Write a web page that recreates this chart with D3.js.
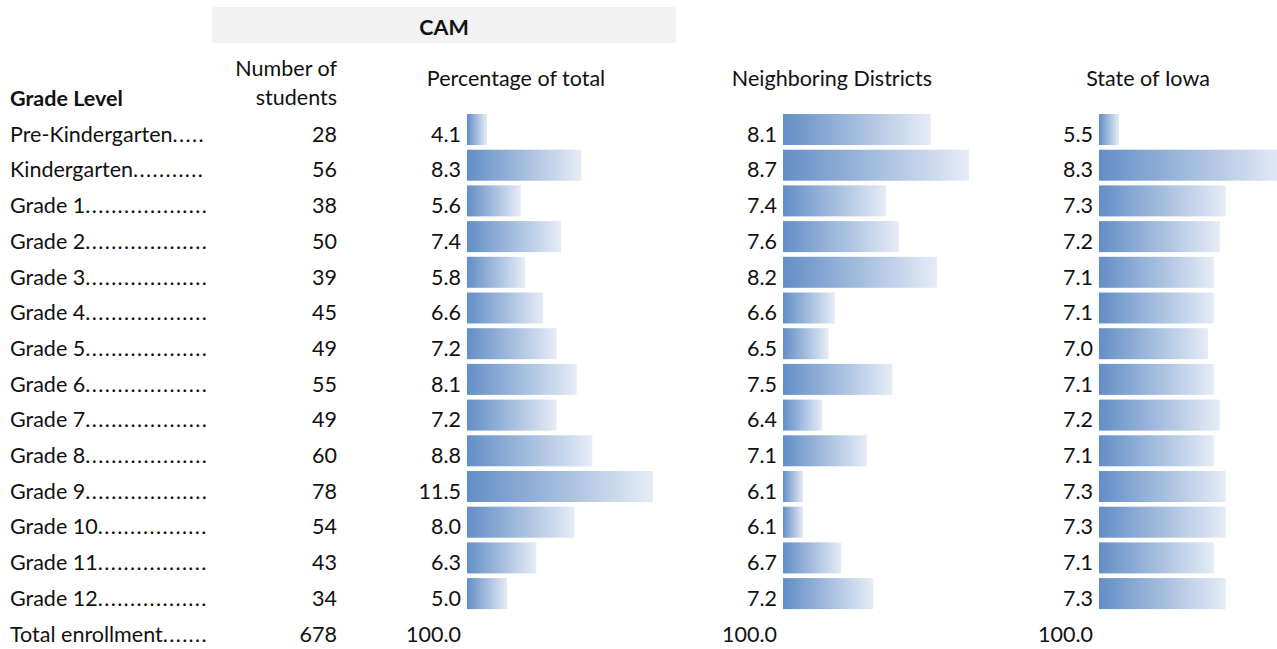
<!DOCTYPE html>
<html>
<head>
<meta charset="utf-8">
<script src="https://cdn.jsdelivr.net/npm/d3@7"></script>
<style>
  body { margin: 0; background: #fff; }
  text { font-family: Lato, "Open Sans", sans-serif; fill: #111; }
</style>
</head>
<body>
<svg id="chart" width="1277" height="649"></svg>
<script>
// grade rows
var grades = ["Pre-Kindergarten", "Kindergarten", "Grade 1", "Grade 2", "Grade 3", "Grade 4", "Grade 5",
  "Grade 6", "Grade 7", "Grade 8", "Grade 9", "Grade 10", "Grade 11", "Grade 12"];
var students = [28, 56, 38, 50, 39, 45, 49, 55, 49, 60, 78, 54, 43, 34];
var camPct = [4.1, 8.3, 5.6, 7.4, 5.8, 6.6, 7.2, 8.1, 7.2, 8.8, 11.5, 8.0, 6.3, 5.0];
var neighborPct = [8.1, 8.7, 7.4, 7.6, 8.2, 6.6, 6.5, 7.5, 6.4, 7.1, 6.1, 6.1, 6.7, 7.2];
var iowaPct = [5.5, 8.3, 7.3, 7.2, 7.1, 7.1, 7.0, 7.1, 7.2, 7.1, 7.3, 7.3, 7.1, 7.3];
var totalLabel = "Total enrollment";
var totalStudents = 678;
var totalPct = 100.0;

var svg = d3.select("#chart");
var fs = 21.5;

var rows = grades.concat([totalLabel]);
var y = d3.scaleBand().domain(rows).range([112.5, 112.5 + rows.length * 35.7]).padding(0);

// gradient like excel data bars
var grad = svg.append("defs").append("linearGradient").attr("id", "barGrad");
grad.append("stop").attr("offset", "0%").attr("stop-color", "#638ec6");
grad.append("stop").attr("offset", "100%").attr("stop-color", "#e6ecf6");

// CAM header band
svg.append("rect").attr("x", 212).attr("y", 7).attr("width", 464).attr("height", 36).attr("fill", "#f2f2f2");
svg.append("text").attr("x", 444).attr("y", 35).attr("text-anchor", "middle")
  .style("font-weight", "bold").style("font-size", fs + "px").text("CAM");

svg.append("text").attr("x", 10).attr("y", 106).style("font-weight", "bold").style("font-size", fs + "px").text("Grade Level");
svg.append("text").attr("x", 337).attr("y", 76).attr("text-anchor", "end").style("font-size", fs + "px").text("Number of");
svg.append("text").attr("x", 337).attr("y", 105).attr("text-anchor", "end").style("font-size", fs + "px").text("students");

var cols = [
  {name: "Percentage of total", vals: camPct, x0: 467, cx: 516},
  {name: "Neighboring Districts", vals: neighborPct, x0: 783, cx: 832},
  {name: "State of Iowa", vals: iowaPct, x0: 1099, cx: 1148}
];

// row labels with dot leaders
svg.selectAll("text.lab").data(rows).enter().append("text")
  .attr("class", "lab").attr("x", 10).attr("y", function(d){ return y(d) + 29.2; })
  .style("font-size", fs + "px")
  .each(function(d){
    var t = d3.select(this), s = "";
    t.append("tspan").text(d);
    var dots = t.append("tspan").style("letter-spacing", "1.4px");
    while (this.getComputedTextLength() < 194) { s += "."; dots.text(s); }
  });

svg.selectAll("text.num").data(students.concat([totalStudents])).enter().append("text")
  .attr("class", "num").attr("x", 337).attr("y", function(d, i){ return y(rows[i]) + 29.2; })
  .attr("text-anchor", "end").style("font-size", fs + "px").text(function(d){ return d; });

cols.forEach(function(c){
  var w = d3.scaleLinear().domain(d3.extent(c.vals)).range([20, 186]);
  var g = svg.append("g");
  g.append("text").attr("x", c.cx).attr("y", 86).attr("text-anchor", "middle")
    .style("font-size", fs + "px").text(c.name);
  g.selectAll("rect").data(c.vals).enter().append("rect")
    .attr("x", c.x0).attr("y", function(d, i){ return y(grades[i]) + 1.5; })
    .attr("width", function(d){ return w(d); }).attr("height", 31)
    .attr("fill", "url(#barGrad)");
  g.selectAll("text.v").data(c.vals.concat([totalPct])).enter().append("text")
    .attr("class", "v").attr("x", c.x0 - 6).attr("y", function(d, i){ return y(rows[i]) + 29.2; })
    .attr("text-anchor", "end").style("font-size", fs + "px").text(function(d){ return d.toFixed(1); });
});
</script>
</body>
</html>
